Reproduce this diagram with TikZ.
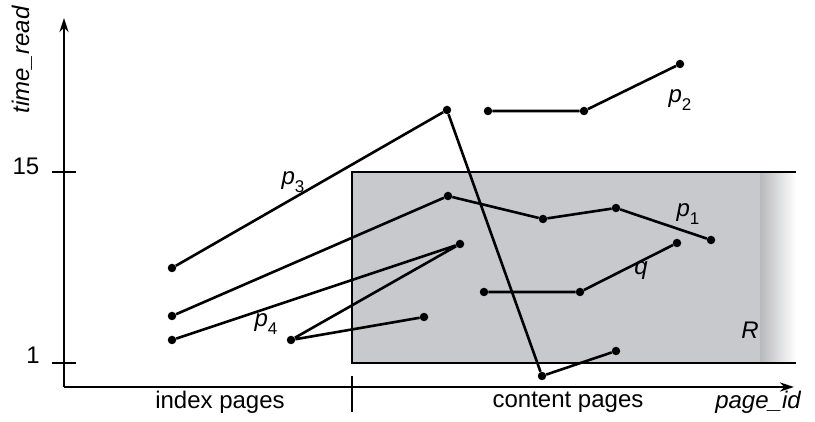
\documentclass[tikz,border=0pt]{standalone}
\usepackage{fontspec}
\usetikzlibrary{arrows.meta}
\setmainfont{Liberation Sans}
\begin{document}
\begin{tikzpicture}[x=1pt,y=-1pt,
  axis/.style={line width=2.4pt,-{Stealth[length=14pt,width=9pt]}},
  tick/.style={line width=2.2pt},
  path/.style={line width=2.6pt,line join=round},
  pt/.style={circle,fill=black,inner sep=0pt,minimum size=8.5pt},
  lbl/.style={font=\fontsize{24}{28}\selectfont,inner sep=0pt},
  plbl/.style={font=\fontsize{24}{28}\selectfont\itshape,inner sep=0pt}]
\useasboundingbox (0,0) rectangle (815,422);
\definecolor{regiongray}{RGB}{200,201,204}
\newcommand{\pname}[1]{p\raisebox{-0.32em}{\fontsize{17}{20}\selectfont\upshape #1}}
% query region R
\fill[regiongray] (352,172) rectangle (760,363);
\shade[left color=regiongray!92!black,right color=white] (760,172) rectangle (796,363);
\draw[line width=2.6pt] (796,172) -- (352,172) -- (352,363) -- (796,363);
% axes
\coordinate (o) at (64,387);
\coordinate (ytop) at (64,18);
\coordinate (xend) at (794,387);
\draw[axis] (o) -- (ytop);
\draw[axis] (o) -- (xend);
\draw[tick] (52,172) -- (76,172);
\draw[tick] (52,363) -- (76,363);
\draw[tick] (352,376) -- (352,412);
\node[lbl] at (26,166) {15};
\node[lbl] at (33,355) {1};
\node[plbl,rotate=90] at (22,60) {time\_read};
\node[lbl] at (220,402) {index pages};
\node[lbl] at (568,402) {content pages};
\node[plbl] at (758,402) {page\_id};
% trajectory p3
\node[pt] (a1) at (172,268) {};
\node[pt] (a2) at (447,110) {};
\node[pt] (a3) at (542,376) {};
\node[pt] (a4) at (616,351) {};
\draw[path] (a1) -- (a2) -- (a3) -- (a4);
% trajectory p1
\node[pt] (b1) at (172,316) {};
\node[pt] (b2) at (448,196) {};
\node[pt] (b3) at (543,219) {};
\node[pt] (b4) at (616,208) {};
\node[pt] (b5) at (711,240) {};
\draw[path] (b1) -- (b2) -- (b3) -- (b4) -- (b5);
% trajectory p4
\node[pt] (c1) at (172,340) {};
\node[pt] (c2) at (460,244) {};
\node[pt] (c3) at (291,340) {};
\node[pt] (c4) at (424,317) {};
\draw[path] (c1) -- (c2) -- (c3) -- (c4);
% trajectory p2
\node[pt] (d1) at (488,111) {};
\node[pt] (d2) at (584,111) {};
\node[pt] (d3) at (680,64) {};
\draw[path] (d1) -- (d2) -- (d3);
% query trajectory q
\node[pt] (e1) at (484,292) {};
\node[pt] (e2) at (580,292) {};
\node[pt] (e3) at (677,243) {};
\draw[path] (e1) -- (e2) -- (e3);
% labels
\node[plbl] at (293,182) {\pname{3}};
\node[plbl] at (688,214) {\pname{1}};
\node[plbl] at (680,100) {\pname{2}};
\node[plbl] at (266,324) {\pname{4}};
\node[plbl] at (641,271) {q};
\node[plbl] at (750,330) {R};
\end{tikzpicture}
\end{document}
